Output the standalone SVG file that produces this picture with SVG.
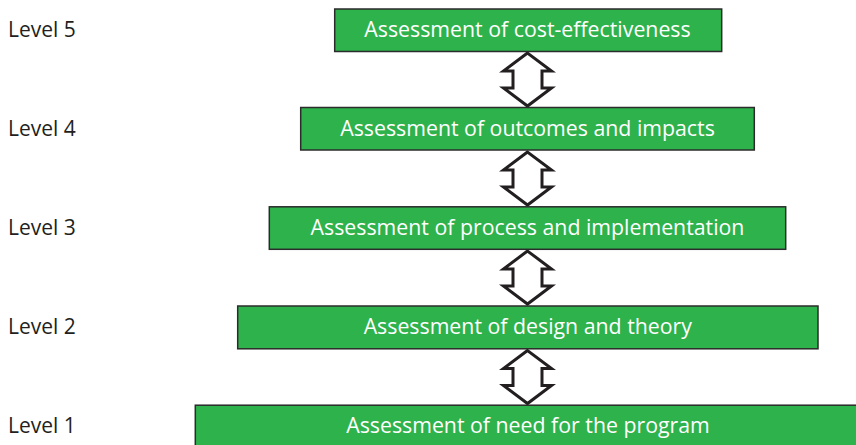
<svg xmlns="http://www.w3.org/2000/svg" width="856" height="445" viewBox="0 0 856 445">
<defs>
<style>
.box{fill:#2EB24B;stroke:#2b2b2b;stroke-width:1.5}
.bt{font-family:"Open Sans","Noto Sans",sans-serif;font-size:21.3px;fill:#ffffff;text-anchor:middle}
.lv{font-family:"Open Sans","Noto Sans",sans-serif;font-size:21px;fill:#231f20}
.arr{fill:#ffffff;stroke:#231f20;stroke-width:3;stroke-linejoin:miter}
</style>
<path id="dbl" d="M0,1.5 L-24,19.5 L-14.5,19.5 L-14.5,36.5 L-24,36.5 L0,54.5 L24,36.5 L14.5,36.5 L14.5,19.5 L24,19.5 Z"/>
</defs>
<rect width="856" height="445" fill="#ffffff"/>
<g id="labels">
<text class="lv" x="8" y="37">Level 5</text>
<text class="lv" x="8" y="136">Level 4</text>
<text class="lv" x="8" y="235">Level 3</text>
<text class="lv" x="8" y="334">Level 2</text>
<text class="lv" x="8" y="433">Level 1</text>
</g>
<g id="connectors">
<use href="#dbl" class="arr" x="527.5" y="51.5"/>
<use href="#dbl" class="arr" x="527.5" y="150.5"/>
<use href="#dbl" class="arr" x="527.5" y="249.5"/>
<use href="#dbl" class="arr" x="527.5" y="349"/>
</g>
<g id="level5">
<rect class="box" x="334.7" y="9" width="387" height="42.5"/>
<text class="bt" x="527.5" y="37">Assessment of cost-effectiveness</text>
</g>
<g id="level4">
<rect class="box" x="300.7" y="107.5" width="453.6" height="42.5"/>
<text class="bt" x="527.5" y="136">Assessment of outcomes and impacts</text>
</g>
<g id="level3">
<rect class="box" x="269.3" y="206.8" width="516.4" height="42.5"/>
<text class="bt" x="527.5" y="235">Assessment of process and implementation</text>
</g>
<g id="level2">
<rect class="box" x="237.7" y="306" width="580.3" height="42.8"/>
<text class="bt" x="527.8" y="334">Assessment of design and theory</text>
</g>
<g id="level1">
<rect class="box" x="195.3" y="405.2" width="665" height="45"/>
<text class="bt" x="528" y="433">Assessment of need for the program</text>
</g>
</svg>
